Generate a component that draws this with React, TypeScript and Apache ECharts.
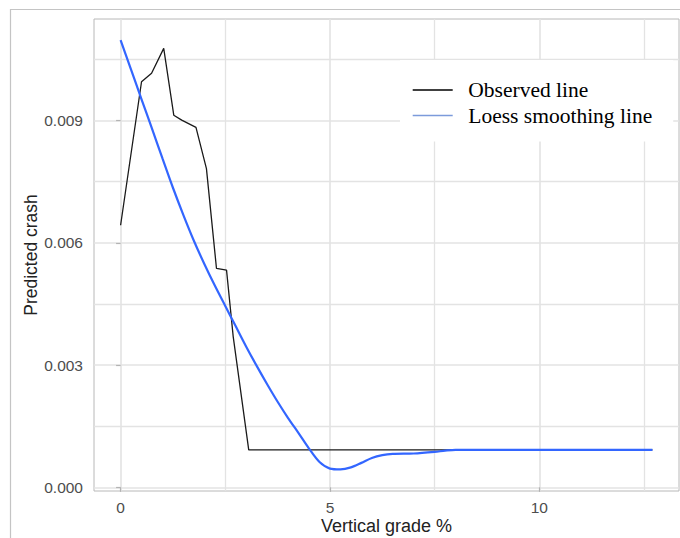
import React, { useEffect, useRef } from "react";
import * as echarts from "echarts";

// Observed line (grade %, predicted crash)
const observedX = [0, 0.5, 0.74, 1.03, 1.27, 1.46, 1.8, 2.05, 2.29, 2.53, 2.69, 3.06, 7.6, 12.7];
const observedY = [0.00643, 0.00995, 0.01016, 0.01077, 0.00913, 0.00901, 0.00883, 0.00782, 0.00537, 0.00533, 0.00369, 0.00092, 0.00092, 0.00092];

// Loess smoothing line
const loessX = [0, 0.25, 0.5, 0.75, 1.0, 1.25, 1.5, 1.75, 2.0, 2.25, 2.5, 2.75, 3.0, 3.25, 3.5, 3.75, 4.0, 4.25, 4.5, 4.75, 5.0, 5.25, 5.5, 5.75, 6.0, 6.25, 6.5, 7.0, 7.5, 7.75, 8.0, 12.7];
const loessY = [0.01097, 0.01025, 0.00952, 0.0088, 0.00807, 0.00735, 0.00668, 0.00605, 0.00548, 0.00495, 0.00445, 0.00395, 0.00345, 0.00298, 0.00253, 0.0021, 0.0017, 0.00133, 0.00095, 0.00062, 0.00046, 0.00044, 0.00049, 0.0006, 0.00072, 0.00079, 0.00082, 0.00083, 0.00087, 0.0009, 0.00092, 0.00092];

const xMajorTicks = [0, 5, 10];
const xMinorTicks = [2.5, 7.5, 12.5];
const yMajorTicks = [0, 0.003, 0.006, 0.009];
const yMinorTicks = [0.0015, 0.0045, 0.0075, 0.0105];

const seriesNames = ["Observed line", "Loess smoothing line"];

export default function App() {
  const ref = useRef<HTMLDivElement>(null);
  useEffect(() => {
    if (!ref.current) return;
    const chart = echarts.init(ref.current, undefined, { renderer: "svg" });
    const gridColor = "#e3e3e3";
    const sans = "'Liberation Sans', Arial, sans-serif";
    const xRange = { min: -0.635, max: 13.335 };
    const yRange = { min: -0.00009, max: 0.01149 };
    chart.setOption({
      animation: false,
      backgroundColor: "#ffffff",
      grid: {
        left: 94,
        right: 1,
        top: 19,
        bottom: 47,
        outerBoundsMode: "none",
        containLabel: false,
        show: true,
        borderColor: "#b8b8b8",
        borderWidth: 1,
        backgroundColor: "transparent",
      },
      graphic: [
        {
          type: "rect",
          shape: { x: 10.5, y: 9.5, width: 700, height: 560 },
          style: { fill: "none", stroke: "#c4c4c4", lineWidth: 1.2 },
          silent: true,
        },
      ],
      legend: {
        orient: "vertical",
        left: 400,
        top: 60,
        padding: [19, 21, 15, 12.7],
        backgroundColor: "#ffffff",
        icon: "rect",
        itemWidth: 40,
        itemHeight: 1.5,
        itemGap: 3.5,
        textStyle: {
          fontFamily: "'Liberation Serif', 'Times New Roman', serif",
          fontSize: 21.5,
          color: "#000000",
          lineHeight: 22,
          padding: [0, 0, 0, 10.6],
        },
        data: [
          { name: seriesNames[0], itemStyle: { color: "#000000" } },
          { name: seriesNames[1], itemStyle: { color: "#7c9bdb" } },
        ],
      },
      xAxis: [
        {
          type: "value",
          ...xRange,
          name: "Vertical grade %",
          nameLocation: "middle",
          nameGap: 25.5,
          nameMoveOverlap: false,
          nameTextStyle: { fontFamily: sans, fontSize: 18, color: "#222222" },
          axisLine: { show: false },
          axisTick: {
            show: true,
            length: 4.5,
            lineStyle: { color: "#b3b3b3", width: 1.2 },
            customValues: xMajorTicks,
          },
          axisLabel: {
            customValues: xMajorTicks,
            margin: 8,
            fontFamily: sans,
            fontSize: 15.5,
            color: "#4d4d4d",
            formatter: (v: number) => String(v),
          },
          splitLine: { show: true, lineStyle: { color: gridColor, width: 1.6 } },
        },
        {
          type: "value",
          ...xRange,
          position: "bottom",
          axisLine: { show: false },
          axisTick: { show: false, customValues: xMinorTicks },
          axisLabel: { show: false },
          splitLine: { show: true, lineStyle: { color: gridColor, width: 1.3 } },
        },
      ],
      yAxis: [
        {
          type: "value",
          ...yRange,
          name: "Predicted crash",
          nameLocation: "middle",
          nameGap: 54,
          nameMoveOverlap: false,
          nameRotate: 90,
          nameTextStyle: { fontFamily: sans, fontSize: 17.5, color: "#222222" },
          axisLine: { show: false },
          axisTick: {
            show: true,
            length: 4.5,
            lineStyle: { color: "#b3b3b3", width: 1.2 },
            customValues: yMajorTicks,
          },
          axisLabel: {
            customValues: yMajorTicks,
            margin: 11,
            fontFamily: sans,
            fontSize: 15.5,
            color: "#4d4d4d",
            formatter: (v: number) => v.toFixed(3),
          },
          splitLine: { show: true, lineStyle: { color: gridColor, width: 1.6 } },
        },
        {
          type: "value",
          ...yRange,
          position: "left",
          axisLine: { show: false },
          axisTick: { show: false, customValues: yMinorTicks },
          axisLabel: { show: false },
          splitLine: { show: true, lineStyle: { color: gridColor, width: 1.3 } },
        },
      ],
      series: [
        {
          name: seriesNames[0],
          type: "line",
          xAxisIndex: 0,
          yAxisIndex: 0,
          data: observedX.map((x, i) => [x, observedY[i]]),
          symbol: "none",
          lineStyle: { color: "#1a1a1a", width: 1.3 },
          itemStyle: { color: "#000000" },
          z: 2,
        },
        {
          name: seriesNames[1],
          type: "line",
          xAxisIndex: 0,
          yAxisIndex: 0,
          data: loessX.map((x, i) => [x, loessY[i]]),
          symbol: "none",
          smooth: 0.3,
          lineStyle: { color: "#3366ff", width: 2.2 },
          itemStyle: { color: "#3366ff" },
          z: 3,
        },
      ],
    });
    return () => chart.dispose();
  }, []);
  return (
    <div
      ref={ref}
      style={{ position: "fixed", left: 0, top: 0, width: 680, height: 538, background: "#fff" }}
    />
  );
}
